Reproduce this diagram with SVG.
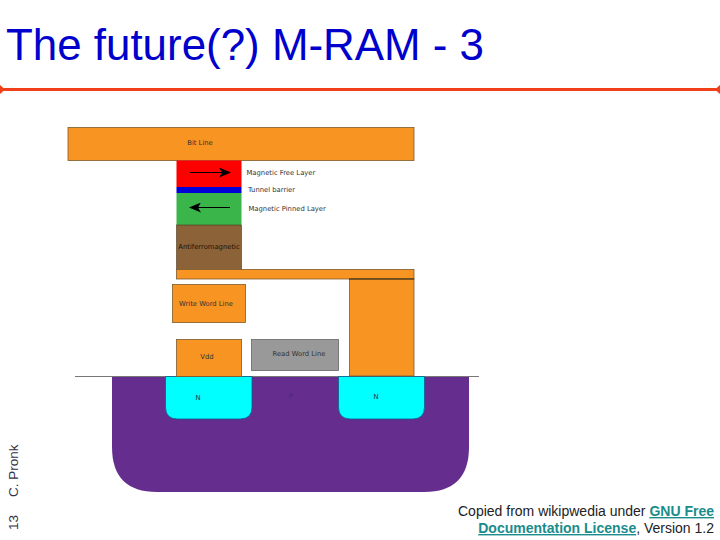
<svg xmlns="http://www.w3.org/2000/svg" width="720" height="540" viewBox="0 0 720 540">
<style>
text{font-family:"Liberation Sans",Arial,sans-serif}
.lbl{font-family:"DejaVu Sans",sans-serif;font-size:6.800px;fill:#333}
.o{fill:#f89422;stroke:#7d5a2c;stroke-width:.8}
</style>
<defs>
<marker id="ah" viewBox="0 0 12 10" refX="11" refY="5" markerWidth="12" markerHeight="10" markerUnits="userSpaceOnUse" orient="auto"><path d="M0 0L12 5L0 10L3 5Z" fill="#000"/></marker>
</defs>
<rect width="720" height="540" fill="#fff"/>
<text id="title" x="6" y="60" font-size="43.900" fill="#0000cc">The future(?) M-RAM - 3</text>
<g id="rule">
<line x1="3" y1="89.500" x2="717" y2="89.500" stroke="#f0401a" stroke-width="3"/>
<path d="M0 85L5 89.500L0 94Z" fill="#f0401a"/>
<path d="M720 85L715 89.500L720 94Z" fill="#f0401a"/>
</g>
<g id="substrate">
<path d="M112 376H469V447Q469 492 424 492H157Q112 492 112 447Z" fill="#652d8e"/>
<text x="291" y="398" class="lbl" style="fill:#4a2a70" text-anchor="middle">P</text>
</g>
<line id="surface" x1="75" y1="376.500" x2="479" y2="376.500" stroke="#777" stroke-width="1"/>
<g id="n-left">
<path d="M165.500 376.500H252V407Q252 419 240 419H177.500Q165.500 419 165.500 407Z" fill="#00ffff" stroke="#0e5a8c" stroke-width=".8"/>
<text x="198" y="400" class="lbl" text-anchor="middle">N</text>
</g>
<g id="n-right">
<path d="M338.500 376.500H424.500V407Q424.500 419 412.500 419H350.500Q338.500 419 338.500 407Z" fill="#00ffff" stroke="#0e5a8c" stroke-width=".8"/>
<text x="376" y="399" class="lbl" text-anchor="middle">N</text>
</g>
<g id="bit-line">
<rect class="o" x="68" y="127.500" width="346" height="33"/>
<text x="200" y="145" class="lbl" text-anchor="middle">Bit Line</text>
</g>
<g id="free-layer">
<rect x="176.500" y="160.500" width="65" height="26.500" fill="#ff0000"/>
<text x="246.500" y="174.500" class="lbl">Magnetic Free Layer</text>
</g>
<g id="tunnel-barrier">
<rect x="176.500" y="187" width="65" height="6" fill="#0000d8"/>
<text x="248" y="192" class="lbl">Tunnel barrier</text>
</g>
<g id="pinned-layer">
<rect x="176.500" y="193" width="65" height="32" fill="#39b54a"/>
<text x="248.500" y="211" class="lbl">Magnetic Pinned Layer</text>
</g>
<g id="antiferro">
<rect x="176.500" y="225" width="65" height="44.500" fill="#8c6239" stroke="#4a3a20" stroke-width=".6"/>
<text x="209" y="249" class="lbl" text-anchor="middle" style="font-size:6.800px;fill:#1a1208">Antiferromagnetic</text>
</g>
<g id="connector-bar"><rect class="o" x="176.500" y="269.500" width="237.500" height="9.500"/></g>
<g id="via"><rect class="o" x="349.500" y="279" width="64.500" height="97"/><line x1="349" y1="279" x2="414" y2="279" stroke="#3a2a10" stroke-width="1"/></g>
<g id="write-word-line">
<rect class="o" x="172.500" y="284.500" width="73" height="38"/>
<text x="206" y="305.500" class="lbl" text-anchor="middle">Write Word Line</text>
</g>
<g id="vdd">
<rect class="o" x="176.500" y="339.500" width="65" height="37"/>
<text x="207" y="358.500" class="lbl" text-anchor="middle">Vdd</text>
</g>
<g id="read-word-line">
<rect x="251.500" y="339.500" width="87" height="31" fill="#999" stroke="#666" stroke-width=".8"/>
<text x="299" y="355.500" class="lbl" text-anchor="middle">Read Word Line</text>
</g>
<g id="connectors" fill="none" stroke="#000" stroke-width="1">
<line x1="190" y1="172.500" x2="230" y2="172.500" marker-end="url(#ah)"/>
<line x1="230" y1="207.500" x2="190" y2="207.500" marker-end="url(#ah)"/>
</g>
<text id="author" transform="translate(17.500,497) rotate(-90)" font-size="13.500" fill="#334">C. Pronk</text>
<text id="page" transform="translate(17.500,530) rotate(-90)" font-size="13.500" fill="#334">13</text>
<g id="credit" font-size="14" fill="#222" text-anchor="end">
<text x="714" y="516">Copied from wikipwedia under <tspan font-weight="bold" fill="#1a8c8c" text-decoration="underline">GNU Free</tspan></text>
<text x="714" y="533"><tspan font-weight="bold" fill="#1a8c8c" text-decoration="underline">Documentation License</tspan>, Version 1.2</text>
</g>
</svg>
